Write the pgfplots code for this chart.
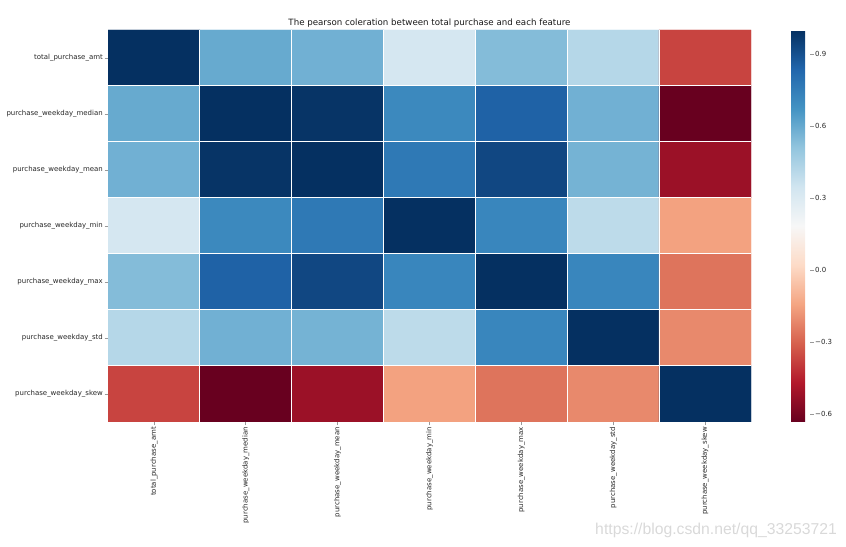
\documentclass[border=0pt]{standalone}
\usepackage{pgfplots}
\pgfplotsset{compat=1.18}
\usepackage{fontspec}
\setmainfont{DejaVu Sans}
\newfontfamily\wmfont{Liberation Sans}
\pgfplotstableread{
x y c
0 6 1.00
1 6 0.60
2 6 0.58
3 6 0.33
4 6 0.54
5 6 0.42
6 6 -0.37
0 5 0.60
1 5 1.00
2 5 0.99
3 5 0.71
4 5 0.85
5 5 0.58
6 5 -0.63
0 4 0.58
1 4 0.99
2 4 1.00
3 4 0.77
4 4 0.93
5 4 0.57
6 4 -0.52
0 3 0.33
1 3 0.71
2 3 0.77
3 3 1.00
4 3 0.72
5 3 0.40
6 3 -0.15
0 2 0.54
1 2 0.85
2 2 0.93
3 2 0.72
4 2 1.00
5 2 0.72
6 2 -0.26
0 1 0.42
1 1 0.58
2 1 0.57
3 1 0.40
4 1 0.72
5 1 1.00
6 1 -0.21
0 0 -0.37
1 0 -0.63
2 0 -0.52
3 0 -0.15
4 0 -0.26
5 0 -0.21
6 0 1.00
}\corrtable
\begin{document}
\begin{tikzpicture}[x=1bp,y=1bp]
\useasboundingbox (0,0) rectangle (846,547);
\begin{axis}[
  at={(108bp,125bp)}, anchor=south west,
  scale only axis, width=643bp, height=392bp,
  xmin=-0.5, xmax=6.5, ymin=-0.5, ymax=6.5,
  colormap={rdbu}{rgb255=(103,0,31) rgb255=(178,24,43) rgb255=(214,96,77) rgb255=(244,165,130) rgb255=(253,219,199) rgb255=(247,247,247) rgb255=(209,229,240) rgb255=(146,197,222) rgb255=(67,147,195) rgb255=(33,102,172) rgb255=(5,48,97)},
  point meta min=-0.633, point meta max=1.0,
  axis line style={draw=none},
  xtick={0,...,6}, ytick={0,...,6},
  xticklabels={total\_purchase\_amt,purchase\_weekday\_median,purchase\_weekday\_mean,purchase\_weekday\_min,purchase\_weekday\_max,purchase\_weekday\_std,purchase\_weekday\_skew},
  yticklabels={purchase\_weekday\_skew,purchase\_weekday\_std,purchase\_weekday\_max,purchase\_weekday\_min,purchase\_weekday\_mean,purchase\_weekday\_median,total\_purchase\_amt},
  xticklabel style={rotate=90, anchor=east, font=\fontsize{7}{8}\selectfont, text=black!85, inner sep=1.5bp},
  yticklabel style={font=\fontsize{7}{8}\selectfont, text=black!85, inner sep=1.5bp},
  xtick pos=lower, ytick pos=left,
  tick align=outside, major tick length=3.5bp,
  major tick style={draw=gray!80, line width=0.6bp},
  minor xtick={0.5,1.5,...,5.5}, minor ytick={0.5,1.5,...,5.5},
  minor tick length=0bp,
  xminorgrids=true, yminorgrids=true,
  minor grid style={draw=white, line width=1bp},
  axis on top,
  title={The pearson coleration between total purchase and each feature},
  title style={font=\fontsize{8.7}{10}\selectfont, text=black!90, at={(0.5,1)}, anchor=south, yshift=-6.5bp},
  colorbar,
  colorbar style={
    at={(parent axis.north east)}, anchor=north west, xshift=31.5bp,
    width=19bp, scale only axis,
    ytick={-0.6,-0.3,0,0.3,0.6,0.9},
    yticklabels={−0.6,−0.3,0.0,0.3,0.6,0.9},
    axis line style={draw=none},
    major tick style={draw=gray!80, line width=0.6bp},
    major tick length=3.5bp, tick align=outside,
    ytick pos=right, yticklabel pos=right,
    yticklabel style={font=\fontsize{7}{8}\selectfont, text=black!85, inner sep=1.5bp},
  },
]
\addplot[matrix plot*, mesh/cols=7, point meta=explicit] table[x=x, y=y, meta=c] {\corrtable};
\end{axis}
\node[anchor=base east, text=gray!30, font=\wmfont\fontsize{15.8}{18}\selectfont, inner sep=0pt] at (837,12) {https://blog.csdn.net/qq\_33253721};
\end{tikzpicture}
\end{document}
